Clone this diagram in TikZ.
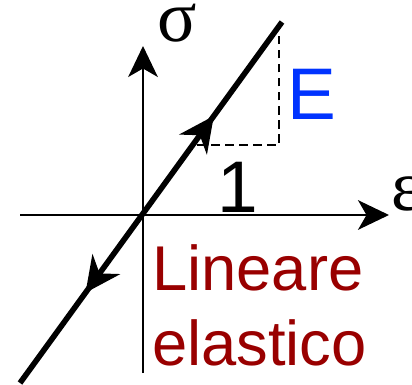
\documentclass[tikz,border=0pt]{standalone}
\usepackage{fontspec}
\setmainfont{Liberation Sans}
\newfontfamily\greekfont{Liberation Serif}
\usepackage{xcolor}
\usetikzlibrary{arrows.meta, decorations.markings}
\definecolor{modblue}{RGB}{0,51,255}
\definecolor{labred}{RGB}{153,0,0}

\begin{document}
\begin{tikzpicture}[
  x=0.025cm, y=-0.025cm,
  axis/.style={line width=1.8pt, -{Stealth[length=22pt, width=21pt, inset=6pt]}},
  curve/.style={line width=4pt, postaction={decorate},
    decoration={markings,
      mark=at position 0.74 with {\arrow{Stealth[length=25pt, width=24pt, inset=8pt]}},
      mark=at position 0.25 with {\arrowreversed{Stealth[length=25pt, width=24pt, inset=8pt]}}}},
  helper/.style={line width=1.1pt, dash pattern=on 6pt off 4pt},
  every node/.style={inner sep=0pt},
]
\useasboundingbox (0,0) rectangle (412,385);

% --- axes
\coordinate (O) at (143,215);
\coordinate (xl) at (20,215);
\coordinate (xr) at (389,215);
\coordinate (yb) at (143,373);
\coordinate (yt) at (143,46);
\draw[axis] (xl) -- (xr);
\draw[axis] (yb) -- (yt);

% --- loading line
\coordinate (lo) at (20,383);
\coordinate (hi) at (282,22);
\draw[curve] (lo) -- (hi);

% --- slope triangle
\coordinate (tri) at (279,145);
\draw[helper] (197,145) -- (tri) -- (279,25);

% --- labels
\node[anchor=base, font=\greekfont\fontsize{52}{60}\selectfont] (sig) at (177,42) {σ};
\node[anchor=base west, font=\greekfont\fontsize{51}{60}\selectfont] (eps) at (391,210) {ε};
\node[anchor=base west, text=modblue, font=\fontsize{52}{60}\selectfont] (E) at (287,120) {E};
\node[anchor=base, font=\fontsize{52}{60}\selectfont] (one) at (238,213) {1};
\node[anchor=base west, align=left, text=labred, font=\fontsize{45}{53}\selectfont] (lab) at (152,365) {Lineare\\elastico};
\end{tikzpicture}
\end{document}
